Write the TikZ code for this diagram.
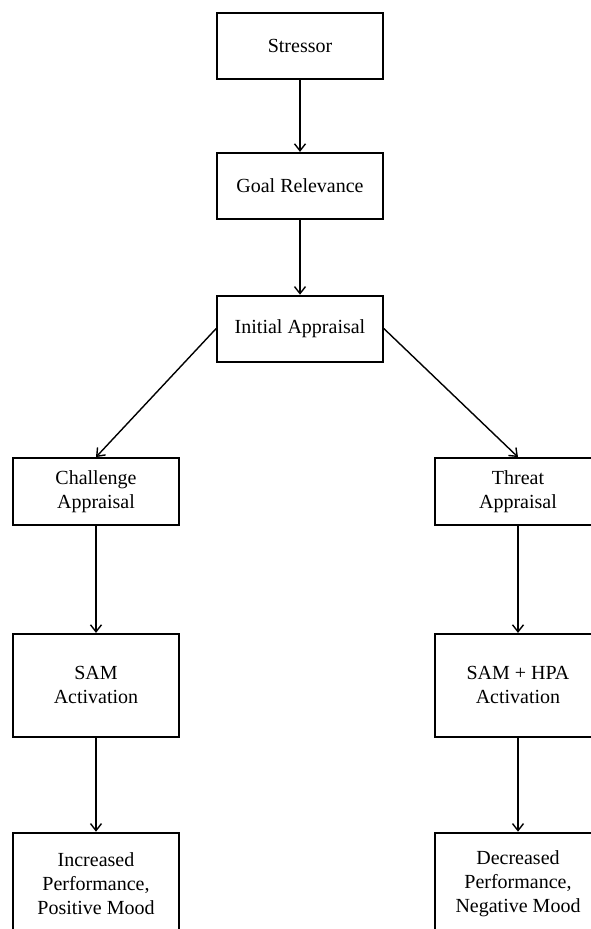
\documentclass[tikz,border=0pt]{standalone}
\usepackage{fontspec}
\setmainfont{Liberation Serif}
\usepackage{tikz}
\usetikzlibrary{arrows.meta,positioning}

\begin{document}
\begin{tikzpicture}[
  x=1pt, y=-1pt,
  font=\fontsize{20}{24}\selectfont,
  box/.style={draw, line width=1.8pt, align=center, inner sep=4pt, minimum width=166pt, minimum height=66pt},
  tallbox/.style={box, minimum height=103pt},
  arr/.style={-{Straight Barb[length=7pt,width=11pt,line width=1.4pt]}, line width=1.4pt}
]
\useasboundingbox (0,0) rectangle (590,929);
\node[box] (stressor) at (300,46) {Stressor};
\node[box, below=72pt of stressor] (goal) {Goal Relevance};
\node[box, below=75pt of goal] (initial) {Initial Appraisal};
\node[box, minimum height=67pt] (challenge) at (96,491.5) {Challenge\\Appraisal};
\node[box, minimum height=67pt] (threat) at (518,491.5) {Threat\\Appraisal};
\node[tallbox, below=107pt of challenge] (samleft) {SAM\\Activation};
\node[tallbox, below=107pt of threat] (samright) {SAM + HPA\\Activation};
\node[tallbox, below=94pt of samleft] (increased) {Increased\\Performance,\\Positive Mood};
\node[tallbox, below=94pt of samright] (decreased) {Decreased\\Performance,\\Negative Mood};
\draw[arr] (stressor) -- (goal);
\draw[arr] (goal) -- (initial);
\draw[arr] (initial.west) -- (challenge.north);
\draw[arr] (initial.east) -- (threat.north);
\draw[arr] (challenge) -- (samleft);
\draw[arr] (threat) -- (samright);
\draw[arr] (samleft) -- (increased);
\draw[arr] (samright) -- (decreased);
\end{tikzpicture}
\end{document}
